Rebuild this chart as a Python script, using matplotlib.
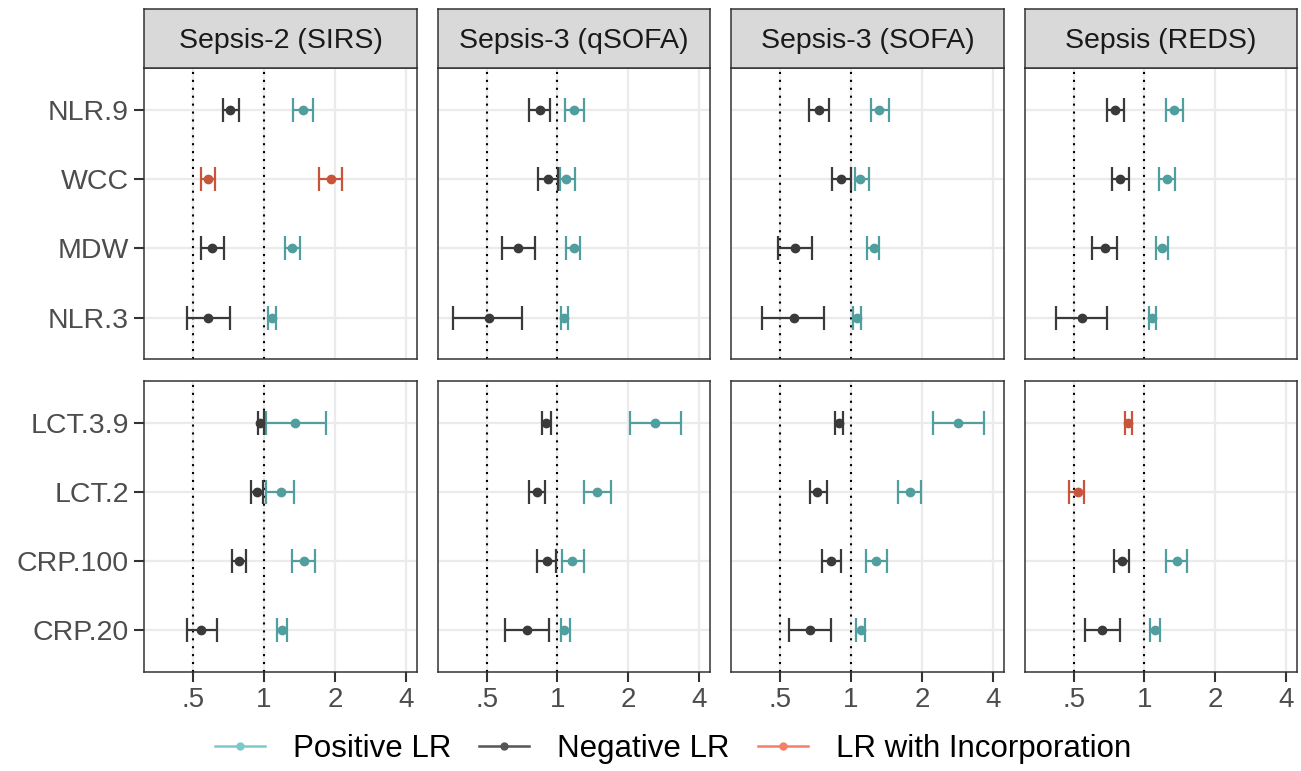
import numpy as np
import matplotlib
matplotlib.use("Agg")
import matplotlib.pyplot as plt
from matplotlib.lines import Line2D

plt.rcParams['font.family'] = ['Liberation Sans', 'DejaVu Sans']

# ---- data ----
criteria = ["Sepsis-2 (SIRS)", "Sepsis-3 (qSOFA)", "Sepsis-3 (SOFA)", "Sepsis (REDS)"]
top_markers = ["NLR.9", "WCC", "MDW", "NLR.3"]
bottom_markers = ["LCT.3.9", "LCT.2", "CRP.100", "CRP.20"]
markers = top_markers + bottom_markers

# one row per criterion, columns follow `markers`; nan = not shown
pos_lr = [
    [1.46, 1.92, 1.32, 1.08, 1.36, 1.18, 1.48, 1.19],
    [1.18, 1.09, 1.17, 1.065, 2.59, 1.47, 1.15, 1.07],
    [1.32, 1.09, 1.25, 1.057, 2.86, 1.78, 1.28, 1.10],
    [1.34, 1.25, 1.19, 1.08, np.nan, np.nan, 1.37, 1.11],
]
pos_lo = [
    [1.33, 1.72, 1.23, 1.04, 1.02, 1.02, 1.32, 1.14],
    [1.08, 1.02, 1.09, 1.03, 2.03, 1.29, 1.04, 1.03],
    [1.22, 1.04, 1.17, 1.02, 2.23, 1.59, 1.16, 1.05],
    [1.23, 1.15, 1.12, 1.05, np.nan, np.nan, 1.24, 1.06],
]
pos_hi = [
    [1.62, 2.15, 1.42, 1.12, 1.83, 1.34, 1.65, 1.25],
    [1.29, 1.19, 1.25, 1.11, 3.35, 1.68, 1.29, 1.13],
    [1.45, 1.19, 1.31, 1.10, 3.67, 1.99, 1.42, 1.15],
    [1.46, 1.35, 1.26, 1.12, np.nan, np.nan, 1.51, 1.16],
]
neg_lr = [
    [0.72, 0.58, 0.60, 0.58, 0.965, 0.93, 0.78, 0.54],
    [0.84, 0.91, 0.68, 0.51, 0.895, 0.82, 0.90, 0.74],
    [0.73, 0.91, 0.58, 0.57, 0.885, 0.72, 0.82, 0.67],
    [0.75, 0.79, 0.68, 0.54, 0.852, 0.52, 0.80, 0.66],
]
neg_lo = [
    [0.67, 0.54, 0.54, 0.47, 0.94, 0.88, 0.73, 0.47],
    [0.76, 0.83, 0.58, 0.36, 0.86, 0.755, 0.82, 0.60],
    [0.66, 0.83, 0.49, 0.42, 0.853, 0.67, 0.75, 0.544],
    [0.69, 0.73, 0.60, 0.42, 0.828, 0.48, 0.74, 0.56],
]
neg_hi = [
    [0.78, 0.62, 0.675, 0.72, 1.0, 0.99, 0.84, 0.634],
    [0.93, 1.007, 0.80, 0.71, 0.936, 0.885, 0.99, 0.92],
    [0.81, 1.0, 0.684, 0.77, 0.925, 0.787, 0.905, 0.826],
    [0.815, 0.86, 0.763, 0.69, 0.886, 0.554, 0.858, 0.788],
]
# criterion/marker pairs drawn as "LR with Incorporation"
incorporation = [("Sepsis-2 (SIRS)", "WCC"), ("Sepsis (REDS)", "LCT.3.9"), ("Sepsis (REDS)", "LCT.2")]

x_breaks = [0.5, 1, 2, 4]
x_labels = [".5", "1", "2", "4"]

# ---- style ----
C_POS = "#519E9F"
C_NEG = "#3A3A3A"
C_INC = "#C6553C"
W, H = 1301, 771

fig = plt.figure(figsize=(W / 100, H / 100), dpi=100)

def px_axes(x0, y0, w, h):
    return fig.add_axes([x0 / W, 1 - (y0 + h) / H, w / W, h / H])

panel_w = 272.5
gap = 21
lefts = [144.3 + i * (panel_w + gap) for i in range(4)]
row_tops = [68.3, 381]
row_h = 291

def draw_bar(ax, y, val, lo, hi, color):
    if np.isnan(val):
        return
    ax.errorbar([val], [y], xerr=[[val - lo], [hi - val]], fmt="o", color=color,
                ms=6, lw=1.6, capsize=8.3, capthick=1.6, zorder=3)

for ci, crit in enumerate(criteria):
    for ri, row_markers in enumerate([top_markers, bottom_markers]):
        ax = px_axes(lefts[ci], row_tops[ri], panel_w, row_h)
        ax.set_xscale("log")
        ax.set_xlim(0.310, 4.46)
        ax.set_ylim(3.6, -0.6)
        ax.set_xticks(x_breaks)
        ax.xaxis.set_minor_locator(plt.NullLocator())
        ax.set_yticks(range(4))
        ax.set_axisbelow(True)
        ax.grid(True, color="#EBEBEB", lw=1.6)
        ax.axvline(0.5, color="black", lw=1.5, ls=(0, (1, 2.8)), zorder=1)
        ax.axvline(1, color="black", lw=1.5, ls=(0, (1, 2.8)), zorder=1)
        for sp in ax.spines.values():
            sp.set_color("#333333")
            sp.set_linewidth(1.1)
            sp.set_zorder(4)
        ax.tick_params(colors="#333333", labelcolor="#4D4D4D", length=7, width=1.5,
                       labelsize=20, pad=4)
        if ci == 0:
            ax.set_yticklabels(row_markers, fontsize=20.5)
        else:
            ax.set_yticklabels([])
            ax.tick_params(axis="y", length=0)
        if ri == 1:
            ax.set_xticklabels(x_labels)
        else:
            ax.set_xticklabels([])
            ax.tick_params(axis="x", length=0)

        for yi, m in enumerate(row_markers):
            k = markers.index(m)
            inc = (crit, m) in incorporation
            draw_bar(ax, yi, pos_lr[ci][k], pos_lo[ci][k], pos_hi[ci][k], C_INC if inc else C_POS)
            draw_bar(ax, yi, neg_lr[ci][k], neg_lo[ci][k], neg_hi[ci][k], C_INC if inc else C_NEG)

    # facet strip
    sax = px_axes(lefts[ci], 9.3, panel_w, 59)
    sax.set_facecolor("#D9D9D9")
    sax.set_xticks([])
    sax.set_yticks([])
    for sp in sax.spines.values():
        sp.set_color("#333333")
        sp.set_linewidth(1.1)
    sax.text(0.5, 0.47, crit, ha="center", va="center", fontsize=20.5, color="#1A1A1A",
             transform=sax.transAxes)

handles = [
    Line2D([], [], color="#7CC9CC", marker="o", ms=5, lw=1.8),
    Line2D([], [], color="#555555", marker="o", ms=5, lw=1.8),
    Line2D([], [], color="#F27F66", marker="o", ms=5, lw=1.8),
]
fig.legend(handles, ["Positive LR", "Negative LR", "LR with Incorporation"],
           loc="center", bbox_to_anchor=(673 / W, 1 - 749 / H), ncol=3, frameon=False,
           fontsize=22.5, handlelength=1.6, handletextpad=0.9, columnspacing=0.9,
           borderaxespad=0, borderpad=0)

fig.savefig("out.png", dpi=100)
